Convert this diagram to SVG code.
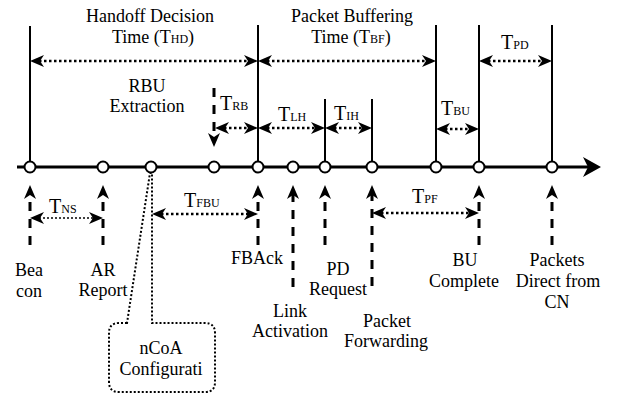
<svg xmlns="http://www.w3.org/2000/svg" width="618" height="393" viewBox="0 0 618 393">
<style>
text{font-family:"Liberation Serif","Times New Roman",serif;font-size:18px;fill:#000;text-anchor:middle}
text.l{text-anchor:start;font-size:20px}
tspan.s{font-size:12px}
.axis{stroke:#000;stroke-width:3;fill:none}
.vl{stroke:#000;stroke-width:2;fill:none}
.dot{stroke:#000;stroke-width:2.5;stroke-dasharray:2.5 2.5;fill:none}
.dots{stroke:#000;stroke-width:1.6;stroke-dasharray:2 2;fill:none}
.dash{stroke:#000;stroke-width:3;stroke-dasharray:9 8;fill:none}
.ev{fill:#fff;stroke:#000;stroke-width:2}
.call{fill:#fff;stroke:#000;stroke-width:2;stroke-dasharray:2 2}
</style>
<defs>
<marker id="ah" markerUnits="userSpaceOnUse" viewBox="0 0 14 12" refX="5" refY="6" markerWidth="14" markerHeight="12" orient="auto-start-reverse">
<path d="M0,0 L14,6 L0,12 L4,6 z" fill="#000"/>
</marker>
<marker id="big" markerUnits="userSpaceOnUse" viewBox="0 0 18 20" refX="6" refY="10" markerWidth="18" markerHeight="20" orient="auto">
<path d="M0,0 L18,10 L0,20 L5,10 z" fill="#000"/>
</marker>
</defs>

<g id="timeline">
<line class="axis" x1="17" y1="167" x2="589" y2="167" marker-end="url(#big)"/>
</g>

<g id="connectors">
<line class="vl" x1="30" y1="26" x2="30" y2="167"/>
<line class="vl" x1="258" y1="25" x2="258" y2="167"/>
<line class="vl" x1="325" y1="99" x2="325" y2="167"/>
<line class="vl" x1="372" y1="99" x2="372" y2="167"/>
<line class="vl" x1="436" y1="25" x2="436" y2="167"/>
<line class="vl" x1="479" y1="25" x2="479" y2="167"/>
<line class="vl" x1="552" y1="25" x2="552" y2="167"/>
<line class="dot" x1="39" y1="61" x2="249" y2="61" marker-start="url(#ah)" marker-end="url(#ah)"/>
<line class="dot" x1="267" y1="61" x2="427" y2="61" marker-start="url(#ah)" marker-end="url(#ah)"/>
<line class="dot" x1="488" y1="61" x2="543" y2="61" marker-start="url(#ah)" marker-end="url(#ah)"/>
<line class="dot" x1="224" y1="128" x2="249" y2="128" marker-start="url(#ah)" marker-end="url(#ah)"/>
<line class="dot" x1="267" y1="128" x2="316" y2="128" marker-start="url(#ah)" marker-end="url(#ah)"/>
<line class="dot" x1="334" y1="128" x2="363" y2="128" marker-start="url(#ah)" marker-end="url(#ah)"/>
<line class="dot" x1="445" y1="129" x2="470" y2="129" marker-start="url(#ah)" marker-end="url(#ah)"/>
<line class="dash" x1="214" y1="88" x2="214" y2="138" marker-end="url(#ah)"/>
<line class="dots" x1="39" y1="218" x2="94" y2="218" marker-start="url(#ah)" marker-end="url(#ah)"/>
<line class="dot" x1="161" y1="214" x2="249" y2="214" marker-start="url(#ah)" marker-end="url(#ah)"/>
<line class="dot" x1="381" y1="213" x2="470" y2="213" marker-start="url(#ah)" marker-end="url(#ah)"/>
<line class="dash" x1="30" y1="245" x2="30" y2="194" marker-end="url(#ah)"/>
<line class="dash" x1="103" y1="245" x2="103" y2="194" marker-end="url(#ah)"/>
<line class="dash" x1="258" y1="245" x2="258" y2="194" marker-end="url(#ah)"/>
<line class="dash" x1="293" y1="287" x2="293" y2="194" marker-end="url(#ah)"/>
<line class="dash" x1="325" y1="245" x2="325" y2="194" marker-end="url(#ah)"/>
<line class="dash" x1="372" y1="286" x2="372" y2="194" marker-end="url(#ah)"/>
<line class="dash" x1="479" y1="245" x2="479" y2="194" marker-end="url(#ah)"/>
<line class="dash" x1="552" y1="245" x2="552" y2="194" marker-end="url(#ah)"/>
</g>

<g id="labels-intervals">
<text x="150" y="22">Handoff Decision</text>
<text x="153" y="43">Time (T<tspan class="s">HD</tspan>)</text>
<text x="352" y="22">Packet Buffering</text>
<text x="351" y="43">Time (T<tspan class="s">BF</tspan>)</text>
<text x="147" y="92">RBU</text>
<text x="147" y="112">Extraction</text>
<text class="l" x="220" y="110">T<tspan class="s">RB</tspan></text>
<text class="l" x="278" y="121">T<tspan class="s">LH</tspan></text>
<text class="l" x="334" y="120">T<tspan class="s">IH</tspan></text>
<text class="l" x="441" y="115">T<tspan class="s">BU</tspan></text>
<text class="l" x="501" y="49">T<tspan class="s">PD</tspan></text>
<text class="l" x="49" y="213">T<tspan class="s">NS</tspan></text>
<text class="l" x="184" y="207">T<tspan class="s">FBU</tspan></text>
<text class="l" x="412" y="203">T<tspan class="s">PF</tspan></text>
</g>

<g id="ncoa">
<path class="call" d="M127,323 L119,323 Q109,323 109,333 L109,382 Q109,392 119,392 L205,392 Q215,392 215,382 L215,333 Q215,323 205,323 L152,323 L152,173 L150,173 Z"/>
<circle class="ev" cx="151" cy="167" r="5.5"/>
<text x="161" y="354">nCoA</text>
<text x="161" y="375">Configurati</text>
</g>

<g id="beacon"><circle class="ev" cx="30" cy="167" r="5.5"/><text x="29" y="276">Bea</text><text x="29" y="297">con</text></g>
<g id="ar-report"><circle class="ev" cx="103" cy="167" r="5.5"/><text x="103" y="276">AR</text><text x="103" y="296">Report</text></g>
<g id="rbu"><circle class="ev" cx="214" cy="167" r="5.5"/></g>
<g id="fback"><circle class="ev" cx="258" cy="167" r="5.5"/><text x="257" y="264">FBAck</text></g>
<g id="link-activation"><circle class="ev" cx="293" cy="167" r="5.5"/><text x="290" y="317">Link</text><text x="290" y="337">Activation</text></g>
<g id="pd-request"><circle class="ev" cx="325" cy="167" r="5.5"/><text x="338" y="275">PD</text><text x="338" y="295">Request</text></g>
<g id="packet-forwarding"><circle class="ev" cx="372" cy="167" r="5.5"/><text x="387" y="327">Packet</text><text x="386" y="347">Forwarding</text></g>
<g id="buffer-end"><circle class="ev" cx="436" cy="167" r="5.5"/></g>
<g id="bu-complete"><circle class="ev" cx="479" cy="167" r="5.5"/><text x="465" y="266">BU</text><text x="464" y="287">Complete</text></g>
<g id="packets-cn"><circle class="ev" cx="552" cy="167" r="5.5"/><text x="557" y="266">Packets</text><text x="558" y="287">Direct from</text><text x="557" y="308">CN</text></g>
</svg>
